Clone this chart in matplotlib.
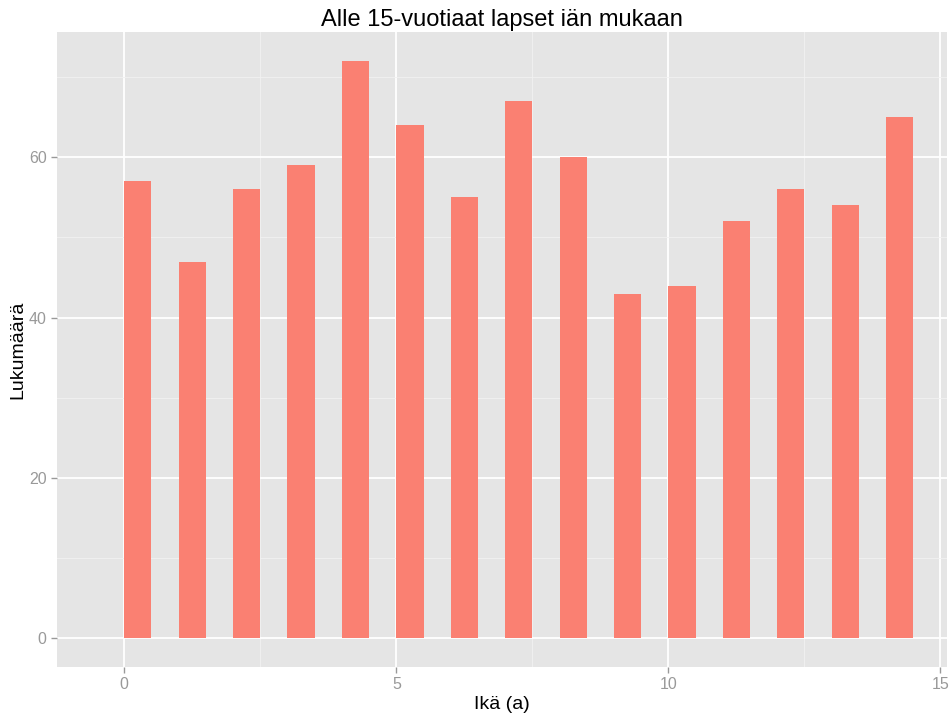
import matplotlib
matplotlib.use('Agg')
import matplotlib.pyplot as plt
from matplotlib.ticker import MultipleLocator

# Data
ages = list(range(15))
counts = [57, 47, 56, 59, 72, 64, 55, 67, 60, 43, 44, 52, 56, 54, 65]

plt.rcParams['font.family'] = ['Liberation Sans', 'DejaVu Sans']

fig = plt.figure(figsize=(9.5, 7.13), dpi=100)
ax = fig.add_axes([57/950, (713-666.7)/713, (947-57)/950, (666.7-32)/713])
ax.set_facecolor('#E5E5E5')

ax.bar(ages, counts, width=0.5, align='edge', color='#FA8072', zorder=3)

ax.set_xlim(-1.236, 15.12)
ax.set_ylim(-3.58, 75.65)
ax.xaxis.set_major_locator(MultipleLocator(5))
ax.xaxis.set_minor_locator(MultipleLocator(2.5))
ax.yaxis.set_major_locator(MultipleLocator(20))
ax.yaxis.set_minor_locator(MultipleLocator(10))
ax.grid(which='major', color='white', linewidth=1.3, zorder=0)
ax.grid(which='minor', color='#F2F2F2', linewidth=0.6, zorder=0)
for s in ax.spines.values():
    s.set_visible(False)
ax.tick_params(which='major', colors='#999999', labelsize=11.5, length=4, width=1)
ax.tick_params(which='minor', length=0)

ax.set_title('Alle 15-vuotiaat lapset iän mukaan', fontsize=17, pad=4)
ax.set_xlabel('Ikä (a)', fontsize=14, labelpad=3)
ax.set_ylabel('Lukumäärä', fontsize=14, labelpad=2)

fig.savefig('out.png', dpi=100)
